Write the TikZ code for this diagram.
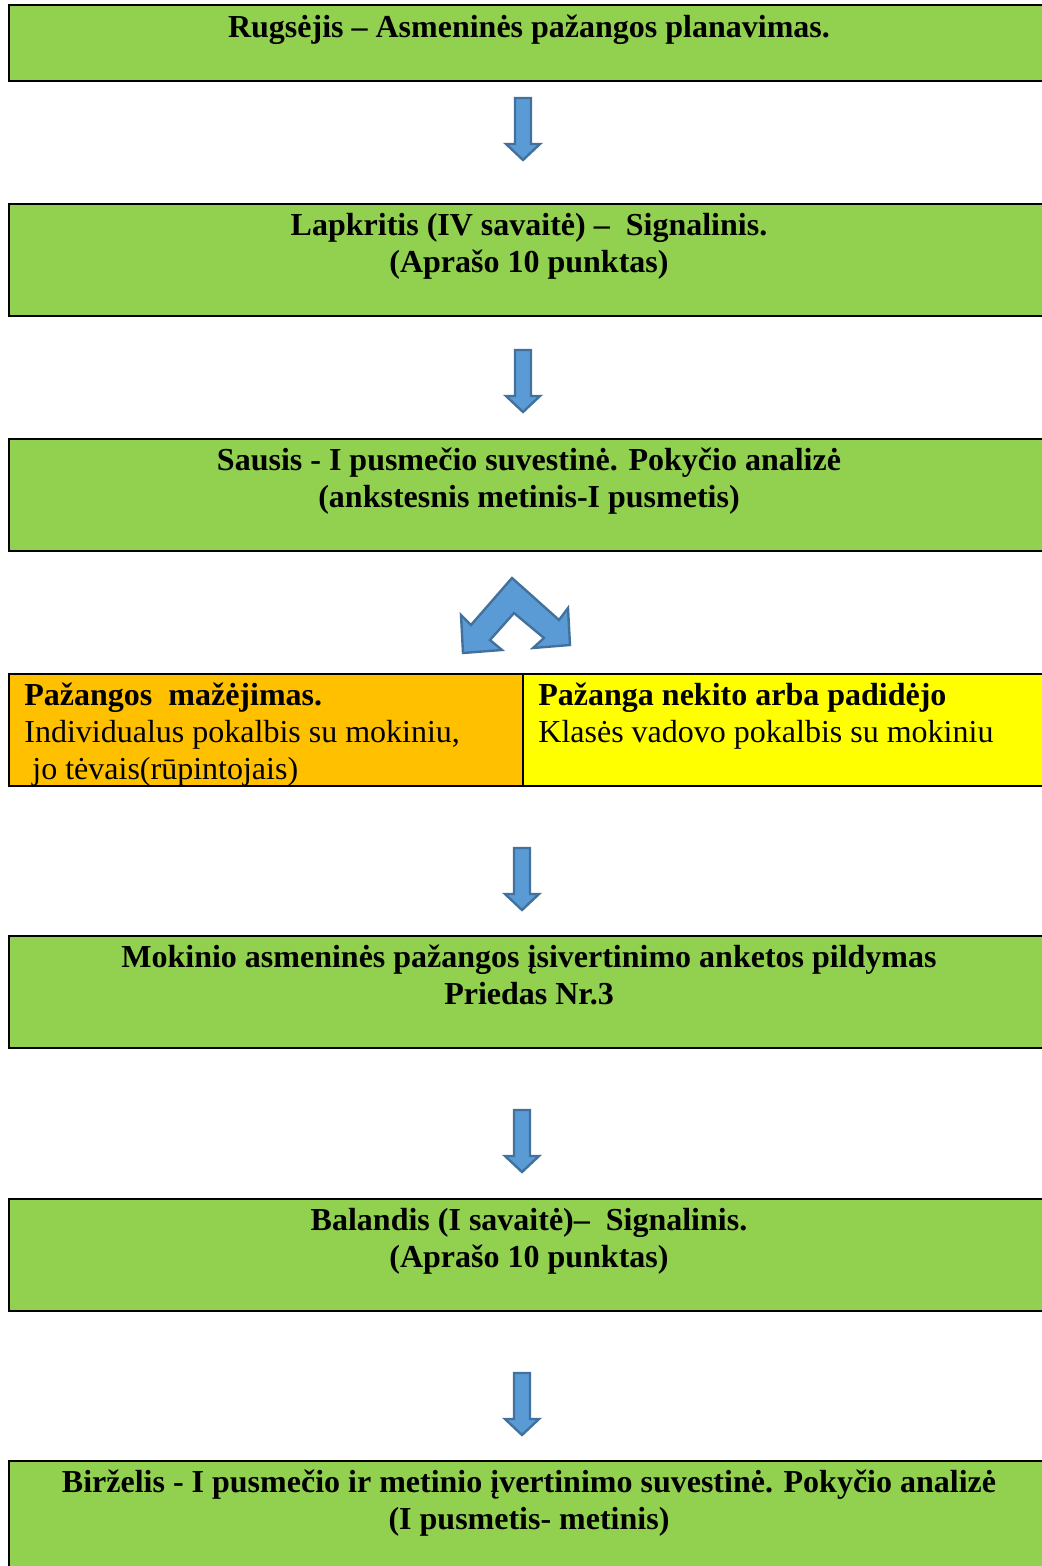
\documentclass[tikz,border=0pt]{standalone}
\usepackage{fontspec}
\setmainfont{Liberation Serif}
\definecolor{boxgreen}{HTML}{92D050}
\definecolor{boxorange}{HTML}{FFC000}
\definecolor{boxyellow}{HTML}{FFFF00}
\definecolor{arrfill}{HTML}{5B9BD5}
\definecolor{arrline}{HTML}{41719C}
\tikzset{
  gbox/.style={draw=black, line width=1pt, fill=boxgreen},
  obox/.style={draw=black, line width=1pt, fill=boxorange},
  ybox/.style={draw=black, line width=1pt, fill=boxyellow},
  txt/.style={font=\fontsize{16}{18.5}\selectfont\bfseries, align=center, anchor=north, inner sep=0pt},
  ltxt/.style={font=\fontsize{16}{18.3}\selectfont, align=left, anchor=north west, inner sep=0pt},
  barrow/.style={fill=arrfill, draw=arrline, line width=1.2pt, line join=miter},
  darrow/.pic={\path[barrow] (-8,0) -- (8,0) -- (8,46) -- (17,46) -- (0,62) -- (-17,46) -- (-8,46) -- cycle;}
}
\begin{document}
\begin{tikzpicture}[x=0.5pt,y=-0.5pt]
\useasboundingbox (0,0) rectangle (1042,1566);
\clip (0,0) rectangle (1042,1566);
% boxes
\path[gbox] (9,5) rectangle (1049,81);
\node[txt] (t1) at (529,15) {Rugsėjis – Asmeninės pažangos planavimas.};
\path[gbox] (9,204) rectangle (1049,316);
\node[txt] (t2) at (529,213) {Lapkritis (IV savaitė) –\ \ Signalinis.\\(Aprašo 10 punktas)};
\path[gbox] (9,439) rectangle (1049,551);
\node[txt] (t3) at (529,448) {Sausis - I pusmečio suvestinė. Pokyčio analizė\\(ankstesnis metinis-I pusmetis)};
\path[obox] (9,674) rectangle (523,786);
\node[ltxt] (t4) at (24,683) {\textbf{Pažangos\ \ mažėjimas.}\\Individualus pokalbis su mokiniu,\\\ jo tėvais(rūpintojais)};
\path[ybox] (523,674) rectangle (1049,786);
\node[ltxt] (t5) at (538,683) {\textbf{Pažanga nekito arba padidėjo}\\Klasės vadovo pokalbis su mokiniu};
\path[gbox] (9,936) rectangle (1049,1048);
\node[txt] (t6) at (529,945) {Mokinio asmeninės pažangos įsivertinimo anketos pildymas\\Priedas Nr.3};
\path[gbox] (9,1199) rectangle (1049,1311);
\node[txt] (t7) at (529,1208) {Balandis (I savaitė)–\ \ Signalinis.\\(Aprašo 10 punktas)};
\path[gbox] (9,1461) rectangle (1049,1580);
\node[txt] (t8) at (529,1470) {Birželis - I pusmečio ir metinio įvertinimo suvestinė. Pokyčio analizė\\(I pusmetis- metinis)};
% arrows
\pic at (523,98) {darrow};
\pic at (523,350) {darrow};
\pic at (522,848) {darrow};
\pic at (522,1110) {darrow};
\pic at (522,1373) {darrow};
% split arrow
\path[barrow] (512,578) -- (559,620) -- (568,608) -- (570,645) -- (533,648) -- (544,638) -- (514,613) -- (490,640) -- (502,650) -- (463,653) -- (461,615) -- (471,625) -- cycle;
\end{tikzpicture}
\end{document}
